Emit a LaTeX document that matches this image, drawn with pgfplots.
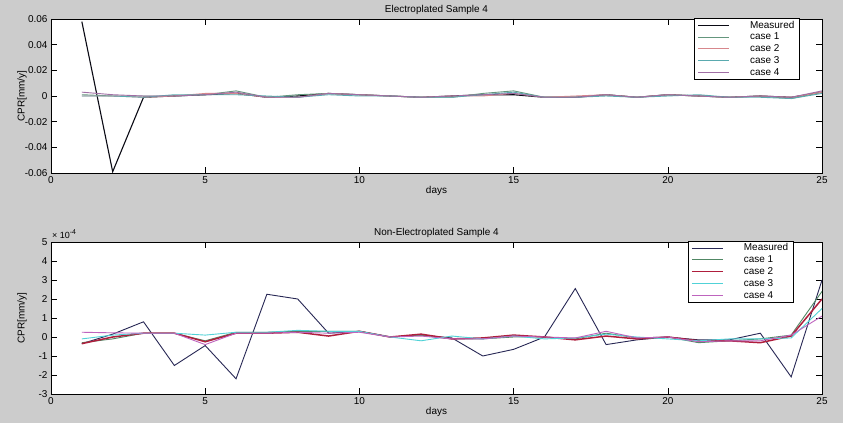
\documentclass[border=0pt]{standalone}
\usepackage{fontspec}
\setmainfont{Liberation Sans}
\usepackage{pgfplots}
\pgfplotsset{compat=1.18}

\definecolor{figbg}{RGB}{204,204,204}
% top panel colours
\definecolor{tmeas}{RGB}{10,10,20}
\definecolor{tcaseA}{RGB}{100,150,125}
\definecolor{tcaseB}{RGB}{215,135,140}
\definecolor{tcaseC}{RGB}{90,170,175}
\definecolor{tcaseD}{RGB}{160,110,165}
% bottom panel colours
\definecolor{bmeas}{RGB}{40,40,85}
\definecolor{bcaseA}{RGB}{80,135,100}
\definecolor{bcaseB}{RGB}{175,30,60}
\definecolor{bcaseC}{RGB}{80,210,215}
\definecolor{bcaseD}{RGB}{190,100,190}

\pgfplotsset{
  matfig/.style={
    scale only axis, width=771bp,
    xmin=0, xmax=25, xtick={0,5,10,15,20,25},
    xticklabels={0,5,10,15,20,25},
    scaled ticks=false,
    /pgf/number format/assume math mode=true,
    axis background/.style={fill=white},
    axis line style={black, line width=0.6bp},
    tick style={black, line width=0.5bp},
    major tick length=6bp,
    tick label style={font=\fontsize{10}{12}\selectfont},
    label style={font=\fontsize{10}{12}\selectfont},
    title style={font=\fontsize{10}{12}\selectfont,
      at={(axis description cs:0.5,1)}, anchor=center, yshift=3.5bp},
    xlabel={days},
    ylabel={CPR[mm/y]},
    legend cell align=left,
    legend image code/.code={%
      \draw[#1] (0bp,0bp) -- (31bp,0bp);
      \path[draw=none] (50bp,0bp);},
    legend style={anchor=north east, line width=0.5bp, fill=white,
      font=\fontsize{10}{12}\selectfont, inner xsep=3bp, inner ysep=1bp,
      nodes={inner ysep=1.5bp, text height=7.3bp, text depth=1.5bp}},
    every axis plot/.append style={mark=none, line width=0.9bp},
  }
}

\begin{document}
\begin{tikzpicture}
\fill[figbg] (0,0) rectangle (843bp,423bp);
\useasboundingbox (0,0) rectangle (843bp,423bp);

% ---- top: Electroplated Sample 4 ----
\begin{axis}[matfig,
  at={(51bp,250bp)}, anchor=south west, height=154bp,
  ymin=-0.06, ymax=0.06,
  ytick={-0.06,-0.04,-0.02,0,0.02,0.04,0.06},
  yticklabels={-0.06,-0.04,-0.02,0,0.02,0.04,0.06},
  title={Electroplated Sample 4},
  xlabel style={at={(axis description cs:0.5,-0.117)}, anchor=center},
  ylabel style={at={(axis description cs:-0.0376,0.5)}, anchor=center},
  legend style={at={(axis description cs:0.971,1.006)}},
]
\addplot[tmeas, line width=1.1bp] coordinates {
 (1,0.058) (2,-0.059) (3,-0.001) (4,0) (5,0.001) (6,0.002) (7,-0.001) (8,0)
 (9,0.002) (10,0.001) (11,0) (12,-0.001) (13,0) (14,0.001) (15,0.001) (16,-0.001)
 (17,-0.001) (18,0.001) (19,-0.001) (20,0.001) (21,0) (22,-0.001) (23,0) (24,-0.001) (25,0.003)};
\addlegendentry{Measured}
\addplot[tcaseA] coordinates {
 (1,0.001) (2,0) (3,0) (4,0) (5,0.001) (6,0.004) (7,-0.001) (8,0.001)
 (9,0.002) (10,0.001) (11,0) (12,-0.001) (13,-0.001) (14,0.002) (15,0.004) (16,-0.001)
 (17,-0.001) (18,0.001) (19,-0.001) (20,0.001) (21,0) (22,-0.001) (23,0) (24,-0.002) (25,0.003)};
\addlegendentry{case 1}
\addplot[tcaseB] coordinates {
 (1,0) (2,0) (3,-0.001) (4,0) (5,0.002) (6,0.002) (7,-0.001) (8,-0.001)
 (9,0.002) (10,0.001) (11,0) (12,-0.001) (13,0) (14,0) (15,0.002) (16,-0.001)
 (17,0) (18,0.001) (19,-0.001) (20,0.001) (21,0) (22,-0.001) (23,0) (24,-0.001) (25,0.003)};
\addlegendentry{case 2}
\addplot[tcaseC] coordinates {
 (1,0) (2,0) (3,-0.001) (4,0.001) (5,0.001) (6,0.001) (7,0) (8,-0.001)
 (9,0.001) (10,0) (11,0) (12,-0.001) (13,-0.001) (14,0.001) (15,0.003) (16,-0.001)
 (17,-0.001) (18,0) (19,-0.001) (20,0) (21,0.001) (22,-0.001) (23,-0.001) (24,-0.002) (25,0.002)};
\addlegendentry{case 3}
\addplot[tcaseD] coordinates {
 (1,0.003) (2,0.001) (3,0) (4,0) (5,0.001) (6,0.003) (7,-0.001) (8,-0.001)
 (9,0.002) (10,0.001) (11,0) (12,-0.001) (13,0) (14,0.001) (15,0.002) (16,-0.001)
 (17,-0.001) (18,0.001) (19,-0.001) (20,0.001) (21,0) (22,-0.001) (23,0) (24,-0.001) (25,0.004)};
\addlegendentry{case 4}
\end{axis}

% ---- bottom: Non-Electroplated Sample 4 (values in units of 1e-4) ----
\begin{axis}[matfig, name=bot,
  at={(51bp,29bp)}, anchor=south west, height=152bp,
  ymin=-3, ymax=5, ytick={-3,-2,-1,0,1,2,3,4,5},
  yticklabels={-3,-2,-1,0,1,2,3,4,5},
  title={Non-Electroplated Sample 4},
  xlabel style={at={(axis description cs:0.5,-0.118)}, anchor=center},
  ylabel style={at={(axis description cs:-0.0376,0.5)}, anchor=center},
  legend style={at={(axis description cs:0.963,1.007)}},
]
\addplot[bmeas] coordinates {
 (1,-0.35) (2,0.15) (3,0.8) (4,-1.5) (5,-0.45) (6,-2.2) (7,2.25) (8,2.0)
 (9,0.2) (10,0.3) (11,0) (12,0.1) (13,-0.05) (14,-1.0) (15,-0.65) (16,0)
 (17,2.55) (18,-0.4) (19,-0.15) (20,0) (21,-0.15) (22,-0.15) (23,0.2) (24,-2.1) (25,3.0)};
\addlegendentry{Measured}
\addplot[bcaseA] coordinates {
 (1,-0.3) (2,-0.1) (3,0.2) (4,0.2) (5,-0.2) (6,0.25) (7,0.25) (8,0.3)
 (9,0.3) (10,0.3) (11,0) (12,0.1) (13,-0.1) (14,-0.1) (15,0) (16,0)
 (17,-0.1) (18,0.2) (19,-0.05) (20,0) (21,-0.3) (22,-0.2) (23,-0.1) (24,0.1) (25,2.4)};
\addlegendentry{case 1}
\addplot[bcaseB, line width=1.5bp] coordinates {
 (1,-0.35) (2,0) (3,0.2) (4,0.2) (5,-0.25) (6,0.2) (7,0.2) (8,0.25)
 (9,0.05) (10,0.3) (11,0) (12,0.15) (13,-0.1) (14,-0.05) (15,0.1) (16,0)
 (17,-0.15) (18,0.05) (19,-0.1) (20,0) (21,-0.2) (22,-0.2) (23,-0.3) (24,0.05) (25,2.0)};
\addlegendentry{case 2}
\addplot[bcaseC] coordinates {
 (1,-0.1) (2,0.1) (3,0.2) (4,0.2) (5,0.1) (6,0.25) (7,0.25) (8,0.35)
 (9,0.3) (10,0.3) (11,0) (12,-0.2) (13,0.05) (14,-0.1) (15,0.05) (16,-0.1)
 (17,-0.05) (18,0.15) (19,0) (20,-0.1) (21,-0.2) (22,-0.1) (23,-0.1) (24,-0.05) (25,1.5)};
\addlegendentry{case 3}
\addplot[bcaseD] coordinates {
 (1,0.25) (2,0.22) (3,0.2) (4,0.2) (5,-0.4) (6,0.2) (7,0.2) (8,0.25)
 (9,0.2) (10,0.25) (11,0) (12,0.05) (13,-0.1) (14,-0.1) (15,0.05) (16,0)
 (17,-0.05) (18,0.3) (19,-0.05) (20,0) (21,-0.25) (22,-0.2) (23,-0.2) (24,0.1) (25,1.1)};
\addlegendentry{case 4}
\end{axis}
\node[anchor=south west, inner sep=0pt, font=\fontsize{9}{10}\selectfont]
  at ([xshift=1bp, yshift=3bp]bot.north west)
  {× 10\raisebox{4bp}{\fontsize{7}{8}\selectfont -4}};
\end{tikzpicture}
\end{document}
